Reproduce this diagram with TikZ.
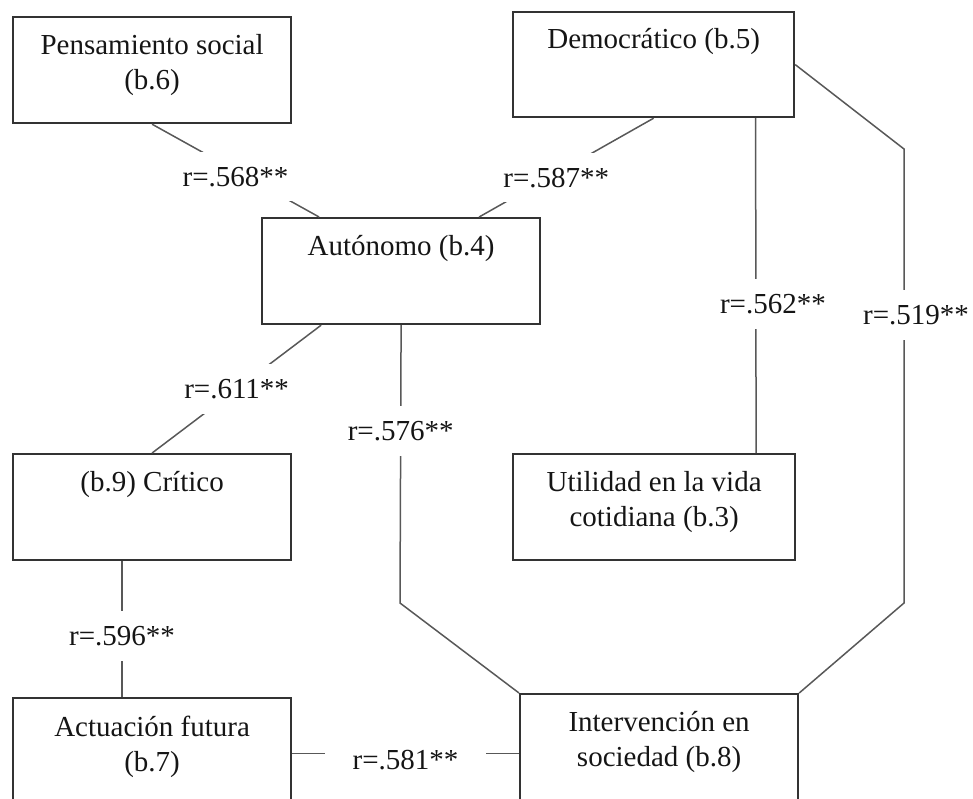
\documentclass[tikz,border=0pt]{standalone}
\usepackage{fontspec}
\setmainfont{Liberation Serif}
\usetikzlibrary{positioning, calc}
\definecolor{boxline}{HTML}{333333}
\definecolor{linkline}{HTML}{585858}
\definecolor{txtcol}{HTML}{151515}
\newcommand*{\bigtxt}{\fontsize{29}{35}\selectfont}

\begin{document}
\begin{tikzpicture}[
      x=1pt, y=-1pt,
      box/.style={draw=boxline, line width=2.2pt, anchor=north west, inner sep=0pt,
        minimum width=278pt, minimum height=106pt},
      boxtxt/.style={anchor=north, yshift=-18.5pt, inner sep=0pt, align=center,
        font=\bigtxt, text=txtcol},
      link/.style={draw=linkline, line width=1.5pt},
      rlab/.style={fill=white, inner xsep=28pt, inner ysep=15pt, font=\bigtxt, text=txtcol}
      ]
  \useasboundingbox (0,0) rectangle (973,798);
  \clip (0,0) rectangle (973,798);

  % boxes
  \node[box, label={[boxtxt]north:{Pensamiento social\\(b.6)}}] (pens) at (12,16) {};
  \node[box, minimum width=281pt, minimum height=105pt,
        label={[boxtxt, yshift=1pt]north:{Democrático (b.5)}}] (demo) at (512,11) {};
  \node[box, label={[boxtxt]north:{Autónomo (b.4)}}] (auto) at (261,217) {};
  \node[box, label={[boxtxt]north:{(b.9) Crítico}}] (crit) at (12,453) {};
  \node[box, minimum width=282pt,
        label={[boxtxt]north:{Utilidad en la vida\\cotidiana (b.3)}}] (util) at (512,453) {};
  \node[box, minimum height=125pt,
        label={[boxtxt]north:{Actuación futura\\(b.7)}}] (actu) at (12,697) {};
  \node[box, minimum height=125pt,
        label={[boxtxt]north:{Intervención en\\sociedad (b.8)}}] (inter) at (519,693) {};

  % bends
  \coordinate (rb1) at (904,149);
  \coordinate (rb2) at (904,603);
  \coordinate (lb) at (400,603);

  % correlations
  \draw[link] (pens.south) -- node[rlab, yshift=-6pt] (r568) {r=.568**} ([xshift=-82pt]auto.north);
  \draw[link] (demo.south) -- node[rlab, xshift=-10pt, yshift=-10pt] (r587) {r=.587**} ([xshift=78pt]auto.north);
  \draw[link] ([xshift=102pt]demo.south) -- node[rlab, pos=0.555, xshift=17pt] (r562) {r=.562**} ([xshift=102pt]util.north);
  \draw[link] (demo.east) -- (rb1) -- node[rlab, pos=0.366, xshift=12pt] (r519) {r=.519**} (rb2) -- (inter.north east);
  \draw[link] ([xshift=-80pt]auto.south) -- node[rlab] (r611) {r=.611**} (crit.north);
  \draw[link] (auto.south) -- node[rlab, pos=0.38] (r576) {r=.576**} (lb) -- (inter.north west);
  \draw[link] ([xshift=-30pt]crit.south) -- node[rlab, pos=0.55] (r596) {r=.596**} ([xshift=-30pt]actu.north);
  \draw[link] ([yshift=7pt]actu.east) -- node[rlab, yshift=-6pt] (r581) {r=.581**} ([yshift=7pt]actu.east -| inter.west);
\end{tikzpicture}
\end{document}
